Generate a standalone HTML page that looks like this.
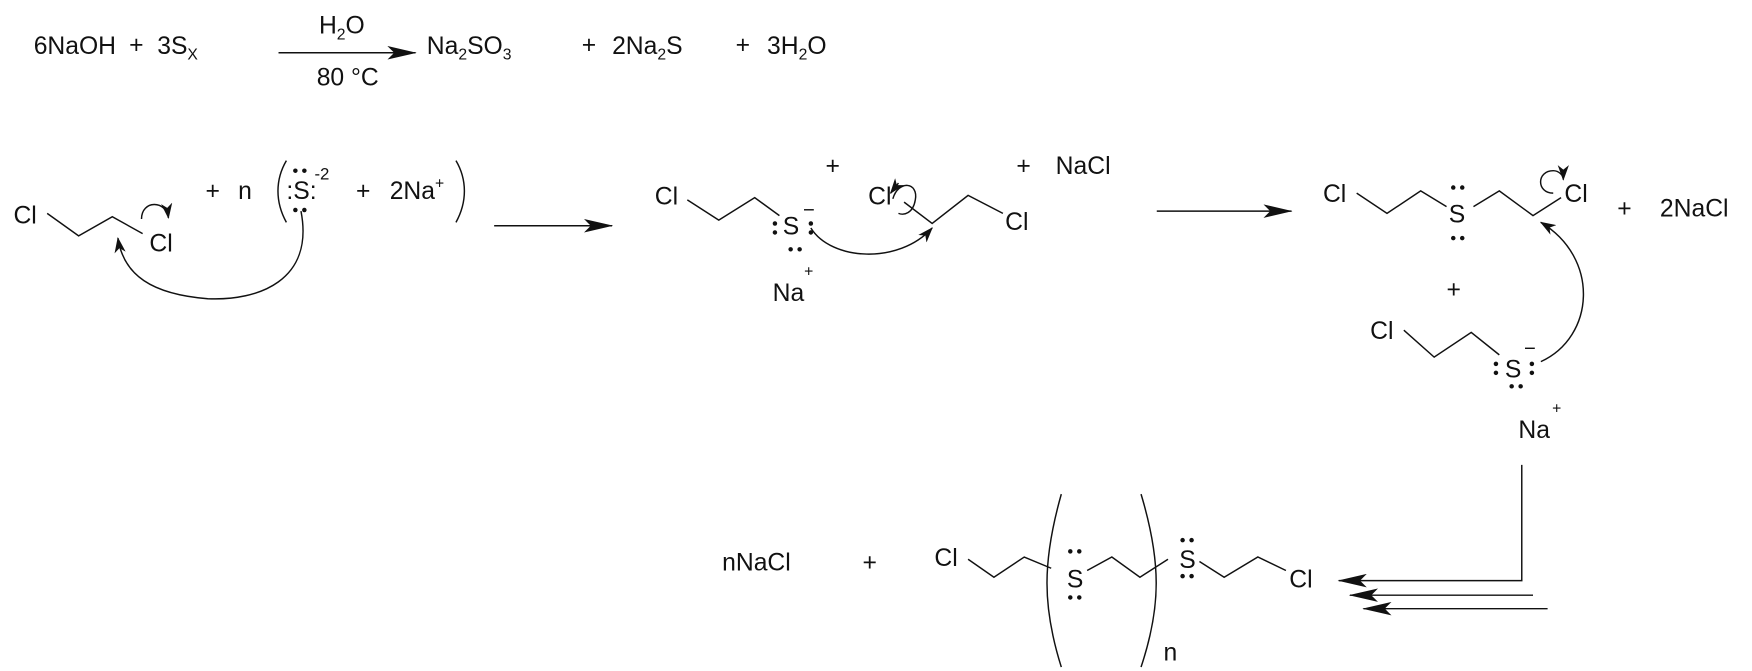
<!DOCTYPE html>
<html><head><meta charset="utf-8"><style>
html,body{margin:0;padding:0;background:#fff;}
svg{display:block;font-family:"Liberation Sans",Arial,sans-serif;}
text{font-size:22px;fill:#111;}
.s{font-size:14px;}
</style></head><body>
<svg width="1752" height="671" viewBox="0 0 1560 597.5" preserveAspectRatio="none" xmlns="http://www.w3.org/2000/svg">
<defs>
<marker id="ah" markerWidth="14" markerHeight="10" refX="13" refY="5" orient="auto" markerUnits="userSpaceOnUse"><path d="M0,0 L14,5 L0,10 L4,5 Z" fill="#111"/></marker>
<marker id="ab" markerWidth="26" markerHeight="12" refX="25" refY="6" orient="auto" markerUnits="userSpaceOnUse"><path d="M0,0 L26,6 L0,12 L6,6 Z" fill="#111"/></marker>
</defs>
<g stroke="#111" stroke-width="1.3" fill="none">
<line x1="248" y1="47" x2="370" y2="47" marker-end="url(#ab)"/>
<line x1="440" y1="201" x2="545" y2="201" marker-end="url(#ab)"/>
<line x1="1030" y1="188" x2="1150" y2="188" marker-end="url(#ab)"/>
<!-- left -->
<polyline points="42,190 70,210 100,193 127,208"/>
<path d="M126,195 C126,178 148,178 150,194" marker-end="url(#ah)"/>
<path d="M268,188 C280,250 230,268 185,266 C135,262 110,245 105,212" marker-end="url(#ah)"/>
<path d="M255,143 C245,160 245,180 255,198"/>
<path d="M406,143 C416,160 416,180 406,198"/>
<!-- middle -->
<polyline points="612,178 640,196 672,176 694,192"/>
<path d="M722,203 C740,232 800,236 830,203" marker-end="url(#ah)"/>
<polyline points="805,180 830,199 862,174 893,190"/>
<path d="M795,177 C800,160 818,162 815,178 C813,190 805,192 800,190"/>
<path d="M800,163 L793,172" marker-end="url(#ah)"/>
<!-- right -->
<polyline points="1208,172 1235,190 1265,170 1288,184"/>
<polyline points="1312,184 1335,170 1365,192 1390,176"/>
<path d="M1383,172 C1368,172 1368,152 1383,152 C1388,152 1392,156 1392,160" marker-end="url(#ah)"/>
<polyline points="1250,294 1277,318 1310,296 1335,316"/>
<path d="M1372,322 C1420,300 1425,230 1372,198" marker-end="url(#ah)"/>
<!-- connector -->
<polyline points="1355,414 1355,517 1192,517" marker-end="url(#ab)"/>
<line x1="1365" y1="530" x2="1202" y2="530" marker-end="url(#ab)"/>
<line x1="1378" y1="542" x2="1214" y2="542" marker-end="url(#ab)"/>
<!-- polymer -->
<polyline points="862,498 885,514 912,496 936,506"/>
<path d="M945,440 C928,500 928,540 945,594"/>
<polyline points="968,508 990,496 1015,514 1040,498"/>
<path d="M1016,440 C1034,500 1034,540 1016,594"/>
<polyline points="1068,500 1090,514 1120,496 1145,508"/>
</g>
<g fill="#111">
<!-- left S dots -->
<circle cx="263" cy="152" r="2"/><circle cx="271" cy="152" r="2"/>
<circle cx="263" cy="187" r="2"/><circle cx="271" cy="187" r="2"/>
<!-- middle S dots -->
<circle cx="690" cy="199" r="2"/><circle cx="690" cy="207" r="2"/>
<circle cx="722" cy="199" r="2"/><circle cx="722" cy="207" r="2"/>
<circle cx="704" cy="222" r="2"/><circle cx="712" cy="222" r="2"/>
<!-- right top S -->
<circle cx="1294" cy="167" r="2"/><circle cx="1302" cy="167" r="2"/>
<circle cx="1294" cy="212" r="2"/><circle cx="1302" cy="212" r="2"/>
<!-- lower S -->
<circle cx="1332" cy="324" r="2"/><circle cx="1332" cy="332" r="2"/>
<circle cx="1364" cy="324" r="2"/><circle cx="1364" cy="332" r="2"/>
<circle cx="1346" cy="344" r="2"/><circle cx="1354" cy="344" r="2"/>
<!-- polymer S -->
<circle cx="953" cy="491" r="2"/><circle cx="961" cy="491" r="2"/>
<circle cx="953" cy="532" r="2"/><circle cx="961" cy="532" r="2"/>
<circle cx="1053" cy="481" r="2"/><circle cx="1061" cy="481" r="2"/>
<circle cx="1053" cy="513" r="2"/><circle cx="1061" cy="513" r="2"/>
</g>
<text x="30" y="48">6NaOH</text>
<text x="115" y="47">+</text>
<text x="140" y="48">3S<tspan class="s" dy="5">X</tspan></text>
<text x="284" y="30">H<tspan class="s" dy="5">2</tspan><tspan dy="-5">O</tspan></text>
<text x="282" y="76">80 °C</text>
<text x="380" y="48">Na<tspan class="s" dy="5">2</tspan><tspan dy="-5">SO</tspan><tspan class="s" dy="5">3</tspan></text>
<text x="518" y="47">+</text>
<text x="545" y="48">2Na<tspan class="s" dy="5">2</tspan><tspan dy="-5">S</tspan></text>
<text x="655" y="47">+</text>
<text x="683" y="48">3H<tspan class="s" dy="5">2</tspan><tspan dy="-5">O</tspan></text>
<text x="12" y="199">Cl</text>
<text x="133" y="224">Cl</text>
<text x="183" y="177">+</text>
<text x="212" y="177">n</text>
<text x="255" y="177">:S:</text>
<text x="280" y="160" style="font-size:15px">-2</text>
<text x="317" y="177">+</text>
<text x="347" y="177">2Na<tspan class="s" dy="-9">+</tspan></text>
<text x="583" y="182">Cl</text>
<text x="697" y="209">S</text>
<text x="715" y="193" style="font-size:18px">−</text>
<text x="688" y="268">Na</text>
<text x="716" y="246" class="s">+</text>
<text x="735" y="155">+</text>
<text x="773" y="182">Cl</text>
<text x="895" y="205">Cl</text>
<text x="905" y="155">+</text>
<text x="940" y="155">NaCl</text>
<text x="1178" y="180">Cl</text>
<text x="1290" y="198">S</text>
<text x="1393" y="180">Cl</text>
<text x="1440" y="193">+</text>
<text x="1478" y="193">2NaCl</text>
<text x="1288" y="265">+</text>
<text x="1220" y="302">Cl</text>
<text x="1340" y="336">S</text>
<text x="1357" y="316" style="font-size:18px">−</text>
<text x="1352" y="390">Na</text>
<text x="1382" y="368" class="s">+</text>
<text x="643" y="508">nNaCl</text>
<text x="768" y="508">+</text>
<text x="832" y="504">Cl</text>
<text x="950" y="523">S</text>
<text x="1050" y="506">S</text>
<text x="1148" y="523">Cl</text>
<text x="1036" y="588">n</text>
</svg>
</body></html>
